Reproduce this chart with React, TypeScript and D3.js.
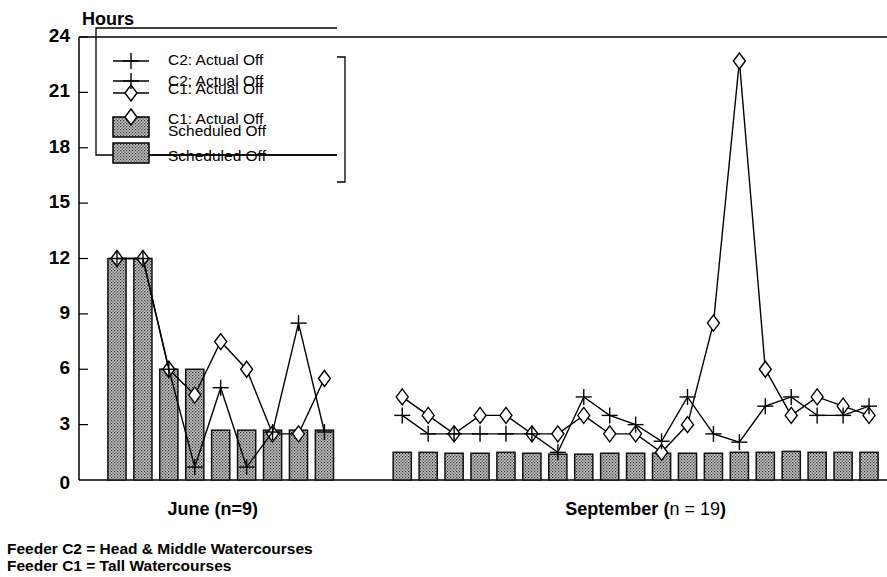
import React from "react";
import * as d3 from "d3";

// ---- data ----
const groups = ["June (n=9)", "September (n = 19)"];
const juneScheduled = [12, 12, 6, 6, 2.7, 2.7, 2.7, 2.7, 2.7];
const juneC2 = [12, 12, 6, 0.7, 5, 0.7, 2.6, 8.5, 2.6];
const juneC1 = [12, 12, 6, 4.6, 7.5, 6, 2.5, 2.5, 5.5];
const sepScheduled = [1.5, 1.5, 1.45, 1.45, 1.5, 1.45, 1.4, 1.4, 1.45, 1.45, 1.45, 1.45, 1.45, 1.5, 1.5, 1.55, 1.5, 1.5, 1.5];
const sepC2 = [3.5, 2.5, 2.5, 2.5, 2.5, 2.5, 1.5, 4.5, 3.5, 3.0, 2.1, 4.5, 2.5, 2.05, 4.0, 4.5, 3.5, 3.5, 4.0];
const sepC1 = [4.5, 3.5, 2.5, 3.5, 3.5, 2.5, 2.5, 3.5, 2.5, 2.5, 1.5, 3.0, 8.5, 22.7, 6.0, 3.5, 4.5, 4.0, 3.5];
const yTicks = [0, 3, 6, 9, 12, 15, 18, 21, 24];
const legendLabels = ["C2: Actual Off", "C1: Actual Off", "Scheduled Off"];
const footnotes = ["Feeder C2 = Head & Middle Watercourses", "Feeder C1 = Tall Watercourses"];

const W = 887;
const H = 577;
const FONT = "'Liberation Sans', Arial, Helvetica, sans-serif";

const juneKeys = juneScheduled.map((_, i) => `J${i}`);
const sepKeys = sepScheduled.map((_, i) => `S${i}`);
const slots = [...juneKeys, "gap0", "gap1", ...sepKeys];

const x = d3.scaleBand<string>().domain(slots).range([104, 882]).paddingInner(0.3).paddingOuter(0.15);
const y = d3.scaleLinear().domain([0, 24]).range([480, 37]);

const cx = (k: string) => (x(k) ?? 0) + x.bandwidth() / 2;

function Plus({ px, py, s = 8 }: { px: number; py: number; s?: number }) {
  return (
    <g stroke="#000" strokeWidth={1.4}>
      <line x1={px - s} x2={px + s} y1={py} y2={py} />
      <line x1={px} x2={px} y1={py - s} y2={py + s} />
    </g>
  );
}
function Diamond({ px, py }: { px: number; py: number }) {
  const w = 6, h = 8;
  return (
    <path
      d={`M${px},${py - h}L${px + w},${py}L${px},${py + h}L${px - w},${py}Z`}
      fill="#fff"
      stroke="#000"
      strokeWidth={1.4}
    />
  );
}

export default function App() {
  const line = d3
    .line<{ k: string; v: number }>()
    .x((d) => cx(d.k))
    .y((d) => y(d.v));

  const junePts = (vals: number[]) => vals.map((v, i) => ({ k: juneKeys[i], v }));
  const sepPts = (vals: number[]) => vals.map((v, i) => ({ k: sepKeys[i], v }));

  const series = [
    { pts: [junePts(juneC1), sepPts(sepC1)], marker: "d" },
    { pts: [junePts(juneC2), sepPts(sepC2)], marker: "p" },
  ];

  const bars = [
    ...juneScheduled.map((v, i) => ({ k: juneKeys[i], v })),
    ...sepScheduled.map((v, i) => ({ k: sepKeys[i], v })),
  ];

  const juneCenter = (cx(juneKeys[0]) + cx(juneKeys[juneKeys.length - 1])) / 2;
  const sepCenter = (cx(sepKeys[0]) + cx(sepKeys[sepKeys.length - 1])) / 2;

  // legend layout (scanned legend appears doubled)
  const legA = [61, 93, 127];
  const legATxt = [61, 90, 132];
  const legB = [81, 117, 153];
  const legBTxt = [82, 120, 157];
  const symX = 131;

  const legendSymbol = (idx: number, sy: number, withLine: boolean) => {
    if (idx === 2)
      return (
        <rect x={113} y={sy - 10} width={36} height={20} fill="url(#hatch)" stroke="#000" strokeWidth={1.5} />
      );
    return (
      <g>
        {withLine && <line x1={113} x2={149} y1={sy} y2={sy} stroke="#000" strokeWidth={1.4} />}
        {idx === 0 ? <Plus px={symX} py={sy} /> : <Diamond px={symX} py={sy} />}
      </g>
    );
  };

  return (
    <svg
      width={W}
      height={H}
      style={{ position: "absolute", left: 0, top: 0, background: "#fff" }}
      fontFamily={FONT}
    >
      <defs>
        <pattern id="hatch" width={3} height={3} patternUnits="userSpaceOnUse">
          <rect width={3} height={3} fill="#c4c4c4" />
          <rect x={0} y={0} width={1.2} height={1.2} fill="#2e2e2e" />
          <rect x={1.5} y={1.5} width={1.2} height={1.2} fill="#3c3c3c" />
        </pattern>
      </defs>

      {/* frame */}
      <line x1={79} x2={W} y1={37} y2={37} stroke="#000" strokeWidth={1.5} />
      <line x1={79} x2={79} y1={37} y2={480} stroke="#000" strokeWidth={1.5} />
      <line x1={79} x2={W} y1={480} y2={480} stroke="#000" strokeWidth={1.5} />

      {/* y ticks */}
      {yTicks.map((t) => (
        <g key={t}>
          {t > 0 && <line x1={79} x2={88} y1={y(t)} y2={y(t)} stroke="#000" strokeWidth={1.2} />}
          <text
            x={70}
            y={y(t) + (t === 0 ? 4 : 0)}
            textAnchor="end"
            dominantBaseline="middle"
            fontWeight="bold"
            fontSize={19}
          >
            {t}
          </text>
        </g>
      ))}
      <text x={82} y={25} fontWeight="bold" fontSize={18}>
        Hours
      </text>

      {/* bars */}
      {bars.map((b) => (
        <rect
          key={b.k}
          x={x(b.k)}
          y={y(b.v)}
          width={x.bandwidth()}
          height={y(0) - y(b.v)}
          fill="url(#hatch)"
          stroke="#111"
          strokeWidth={1.5}
        />
      ))}

      {/* lines */}
      {series.map((s, si) =>
        s.pts.map((pts, gi) => (
          <g key={`${si}-${gi}`}>
            <path d={line(pts) ?? ""} fill="none" stroke="#000" strokeWidth={1.4} />
            {pts.map((p) =>
              s.marker === "d" ? (
                <Diamond key={p.k} px={cx(p.k)} py={y(p.v)} />
              ) : (
                <Plus key={p.k} px={cx(p.k)} py={y(p.v)} />
              )
            )}
          </g>
        ))
      )}

      {/* legend box (shifted in scan) */}
      <path d="M337,28H96V155H337" fill="none" stroke="#000" strokeWidth={1.3} />
      <path d="M337,57H345V182H337" fill="none" stroke="#000" strokeWidth={1.3} />
      {legendLabels.map((lab, i) => (
        <g key={`A${i}`}>
          {legendSymbol(i, legA[i], true)}
          <text x={168} y={legATxt[i]} dominantBaseline="middle" fontSize={15.5}>
            {lab}
          </text>
        </g>
      ))}
      {legendLabels.map((lab, i) => (
        <g key={`B${i}`}>
          {legendSymbol(i, legB[i], i !== 1)}
          <text x={168} y={legBTxt[i]} dominantBaseline="middle" fontSize={15.5}>
            {lab}
          </text>
        </g>
      ))}
      <line x1={149} x2={337} y1={155} y2={155} stroke="#000" strokeWidth={1.3} />

      {/* group labels */}
      <text x={juneCenter - 8} y={515} textAnchor="middle" fontWeight="bold" fontSize={18}>
        {groups[0]}
      </text>
      <text x={sepCenter + 10} y={515} textAnchor="middle" fontSize={18}>
        <tspan fontWeight="bold">{groups[1].split("(")[0]}(</tspan>
        <tspan>{groups[1].split("(")[1].replace(")", "")}</tspan>
        <tspan fontWeight="bold">)</tspan>
      </text>

      {/* footnotes */}
      {footnotes.map((f, i) => (
        <text key={i} x={7} y={554 + i * 17} fontWeight="bold" fontSize={15.5}>
          {f}
        </text>
      ))}
    </svg>
  );
}
